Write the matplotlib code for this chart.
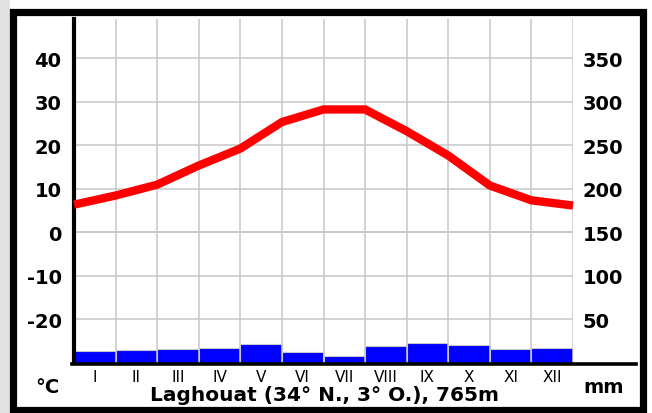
import numpy as np
import matplotlib
matplotlib.use("Agg")
import matplotlib.pyplot as plt
from matplotlib.patches import Rectangle
from matplotlib.lines import Line2D

# data
months = ["I", "II", "III", "IV", "V", "VI", "VII", "VIII", "IX", "X", "XI", "XII"]
precip_mm = [12.9, 14.0, 15.9, 17.0, 21.0, 12.4, 7.1, 19.0, 22.1, 20.2, 15.2, 16.7]
# temperature is drawn at the month boundaries (13 points, 0..12)
temp_c = [6.3, 8.4, 10.9, 15.3, 19.2, 25.3, 28.2, 28.2, 23.2, 17.6, 10.7, 7.3, 6.1]
temp_ticks = [-20, -10, 0, 10, 20, 30, 40]
mm_ticks = [50, 100, 150, 200, 250, 300, 350]
title = "Laghouat (34° N., 3° O.), 765m"

W, H = 652, 414
fig = plt.figure(figsize=(W / 100, H / 100), dpi=100)

def px(x, y):
    # pixel (from top-left) -> figure fraction
    return x / W, 1 - y / H

# shadow + frame
fig.patches.append(Rectangle((0, 0), 10 / W, 1, transform=fig.transFigure,
                             facecolor="#e2e2e2", edgecolor="none", zorder=0))
fig.patches.append(Rectangle(px(13.5, 410.5), (643 - 13.5) / W, (410.5 - 12.5) / H,
                             transform=fig.transFigure, facecolor="white",
                             edgecolor="black", linewidth=5.2, zorder=1))

left, right, top, bottom = 74, 573, 20, 363.5
ax = fig.add_axes([left / W, 1 - bottom / H, (right - left) / W, (bottom - top) / H])
ax2 = ax.twinx()

ax.set_zorder(3)
ax2.set_zorder(2)
ax.patch.set_visible(False)
ax2.patch.set_visible(False)

tlo, thi = -30, 49
ax.set_ylim(tlo, thi)
ax2.set_ylim((tlo + 30) * 5, (thi + 30) * 5)
ax.set_xlim(0, 12)

# precipitation bars
x = np.arange(len(months))
ax2.bar(x, precip_mm, width=1.0, align="edge", color="#0000ff",
        edgecolor="#c8c8c8", linewidth=0.8)

# grid
for t in temp_ticks:
    ax.axhline(t, color="#c8c8c8", linewidth=1.4 if t == 0 else 1.1, zorder=1)
for i in range(1, 13):
    ax.axvline(i, color="#c8c8c8", linewidth=1.1, zorder=1)

# temperature line
ax.plot(np.arange(len(temp_c)), temp_c, color="#ff0000", linewidth=6,
        solid_joinstyle="miter", solid_capstyle="butt", zorder=4, clip_on=False)

for s in ["top", "right", "bottom"]:
    ax.spines[s].set_visible(False)
    ax2.spines[s].set_visible(False)
ax2.spines["left"].set_visible(False)
ax.spines["left"].set_linewidth(3)
ax.spines["left"].set_bounds(tlo, thi)

ax.set_xticks(x + 0.5)
ax.set_xticklabels(months, fontsize=11)
ax.tick_params(axis="x", length=0, pad=5)
ax.set_yticks(temp_ticks)
ax.set_yticklabels([str(t) for t in temp_ticks], fontsize=14, fontweight="bold")
ax.tick_params(axis="y", length=0, pad=9)
ax2.set_yticks(mm_ticks)
ax2.set_yticklabels([str(m) for m in mm_ticks], fontsize=14, fontweight="bold")
ax2.tick_params(axis="y", length=0, pad=7)

# bottom axis line running past the plot to the right
fig.add_artist(Line2D([72 / W, 636 / W], [1 - 364.5 / H] * 2, color="black",
                      linewidth=2.6, transform=fig.transFigure, zorder=5))

fig.text(*px(47, 388), "°C", ha="center", va="center", fontsize=14, fontweight="bold")
fig.text(*px(604, 388), "mm", ha="center", va="center", fontsize=14, fontweight="bold")
fig.text(*px(324, 396), title, ha="center", va="center", fontsize=14.5, fontweight="bold")

fig.savefig("out.png", dpi=100)
